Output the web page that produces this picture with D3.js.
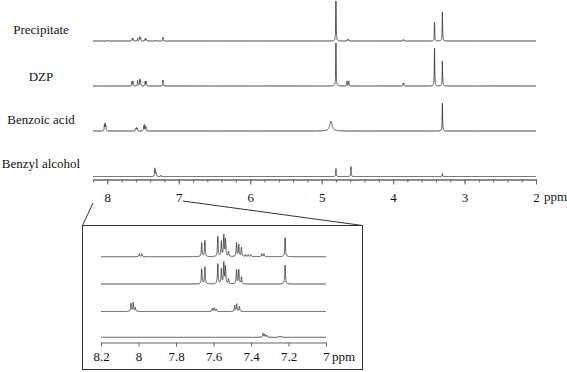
<!DOCTYPE html>
<html>
<head>
<meta charset="utf-8">
<script src="https://cdn.jsdelivr.net/npm/d3@7"></script>
<style>
  html, body { margin: 0; padding: 0; background: #fff; }
  svg text { font-family: "Liberation Serif", "Times New Roman", Times, "DejaVu Serif", serif; }
</style>
</head>
<body>
<svg id="chart" width="567" height="372"></svg>
<script>
// sample names, top to bottom
const samples = ['Precipitate', 'DZP', 'Benzoic acid', 'Benzyl alcohol'];

// full spectrum, peak lists: [ppm, height, half-width (optional)]
const mainPrecipitate = [
  [8.00, 1], [7.65, 2.5], [7.64, 2.5], [7.575, 3], [7.545, 4], [7.535, 3], [7.47, 2.5], [7.455, 2],
  [7.33, 1], [7.22, 4], [4.80, 40], [4.64, 1.5], [4.625, 1.5], [3.86, 1.2], [3.85, 1.2], [3.42, 19], [3.31, 29]
];
const mainDZP = [
  [7.655, 4.5], [7.64, 4.5], [7.575, 5.5], [7.545, 6.5], [7.535, 5], [7.47, 4.5], [7.455, 4.5], [7.22, 6],
  [4.80, 43], [4.645, 5], [4.62, 5], [3.86, 2.5], [3.85, 2.5], [3.42, 38], [3.31, 25]
];
const mainBenzoic = [
  [8.04, 6], [8.03, 7], [8.02, 5], [7.60, 2.5], [7.59, 3], [7.58, 2.5], [7.49, 5], [7.475, 6], [7.46, 4],
  [4.87, 10, 0.02], [3.31, 28]
];
const mainBenzyl = [
  [7.335, 8], [7.325, 5], [7.315, 3], [7.25, 1.2], [4.80, 8], [4.59, 10], [3.31, 3]
];

// aromatic expansion (inset), same samples
const insetPrecipitate = [
  [7.996, 3], [7.982, 3], [7.663, 14], [7.646, 16], [7.577, 20], [7.558, 15], [7.545, 21], [7.536, 17],
  [7.520, 5], [7.477, 14], [7.465, 12], [7.451, 9], [7.43, 2], [7.415, 2], [7.40, 2], [7.343, 3], [7.331, 3], [7.218, 19]
];
const insetDZP = [
  [7.663, 15], [7.646, 17], [7.577, 20], [7.558, 15], [7.545, 21], [7.536, 17], [7.520, 5],
  [7.477, 14], [7.465, 14], [7.451, 7], [7.218, 19]
];
const insetBenzoic = [
  [8.040, 8], [8.028, 9], [8.017, 4], [7.607, 3], [7.597, 3.5], [7.586, 2.5], [7.487, 6], [7.476, 7.5], [7.462, 5]
];
const insetBenzyl = [
  [7.336, 4], [7.326, 3], [7.316, 2], [7.25, 1], [7.24, 1]
];

const mainMajorTicks = [8, 7, 6, 5, 4, 3, 2];
const mainMinorTicks = [8.2, 8, 7.8, 7.6, 7.4, 7.2, 7, 6.8, 6.6, 6.4, 6.2, 6, 5.8, 5.6, 5.4, 5.2, 5,
  4.8, 4.6, 4.4, 4.2, 4, 3.8, 3.6, 3.4, 3.2, 3, 2.8, 2.6, 2.4, 2.2, 2];
const insetTicks = [8.2, 8, 7.8, 7.6, 7.4, 7.2, 7];

const FONT = '"Liberation Serif", "Times New Roman", Times, "DejaVu Serif", serif';
const svg = d3.select('#chart');
const INK = '#3a3a3a';

// Lorentzian sum of a peak list, sampled over [hi, lo]
function trace(peaks, hi, lo, step, hw) {
  const xs = d3.range(lo, hi + step / 2, step).concat(peaks.map(p => p[0]));
  xs.sort((a, b) => b - a);
  return xs.map(x => {
    let v = 0;
    peaks.forEach(p => {
      const w = p[2] || hw;
      const d = (x - p[0]) / w;
      v += p[1] / (1 + d * d);
    });
    return { x, v };
  });
}

function styleText(sel) {
  sel.attr('font-family', FONT).style('font-family', FONT).style('font-size', '13px').attr('fill', '#111');
}

// ---- main spectra
const x = d3.scaleLinear().domain([8.2, 2]).range([93, 536]);
const mainBases = [41, 86, 131, 176.5];
const mainData = [mainPrecipitate, mainDZP, mainBenzoic, mainBenzyl];

mainData.forEach((peaks, i) => {
  const y = d3.scaleLinear().domain([0, 45]).range([mainBases[i], mainBases[i] - 45]);
  const line = d3.line().x(d => x(d.x)).y(d => y(d.v));
  svg.append('path').datum(trace(peaks, 8.2, 2, 0.0005, 0.0035))
    .attr('fill', 'none').attr('stroke', INK).attr('stroke-width', 0.9).attr('d', line);
});

svg.selectAll('.lbl').data(samples).enter().append('text')
  .attr('x', 41).attr('y', (d, i) => [34, 81, 124, 168][i])
  .attr('text-anchor', 'middle').text(d => d)
  .call(styleText);

const axisY = 179.5;
const gMinor = svg.append('g').attr('transform', `translate(0,${axisY})`)
  .call(d3.axisBottom(x).tickValues(mainMinorTicks).tickSize(3).tickSizeOuter(0).tickFormat(''));
const gMajor = svg.append('g').attr('transform', `translate(0,${axisY})`)
  .call(d3.axisBottom(x).tickValues(mainMajorTicks).tickSize(5).tickSizeOuter(0).tickPadding(8).tickFormat(d3.format('d')));
[gMinor, gMajor].forEach(g => {
  g.selectAll('line').attr('stroke', '#666');
  g.select('.domain').attr('stroke', '#666');
  g.selectAll('text').call(styleText);
});
svg.append('text').attr('x', 544).attr('y', 201).text('ppm').call(styleText);

// ---- inset (aromatic expansion)
const xi = d3.scaleLinear().domain([8.2, 7]).range([101, 326]);
const insetBases = [256.7, 284, 311.5, 337.3];
const insetData = [insetPrecipitate, insetDZP, insetBenzoic, insetBenzyl];

const box = { x0: 82.5, y0: 225.5, x1: 362.5, y1: 369.5 };
svg.append('rect').attr('x', box.x0).attr('y', box.y0)
  .attr('width', box.x1 - box.x0).attr('height', box.y1 - box.y0)
  .attr('fill', 'none').attr('stroke', '#333').attr('stroke-width', 1);

// zoom connectors
svg.append('line').attr('x1', x(8.2)).attr('y1', 203).attr('x2', box.x0).attr('y2', box.y0)
  .attr('stroke', '#333').attr('stroke-width', 1);
svg.append('line').attr('x1', x(7) + 4).attr('y1', 201).attr('x2', box.x1).attr('y2', box.y0)
  .attr('stroke', '#333').attr('stroke-width', 1);

insetData.forEach((peaks, i) => {
  const y = d3.scaleLinear().domain([0, 25]).range([insetBases[i], insetBases[i] - 25]);
  const line = d3.line().x(d => xi(d.x)).y(d => y(d.v));
  svg.append('path').datum(trace(peaks, 8.2, 7, 0.0002, 0.0022))
    .attr('fill', 'none').attr('stroke', INK).attr('stroke-width', 0.9).attr('d', line);
});

const gInset = svg.append('g').attr('transform', 'translate(0,342.5)')
  .call(d3.axisBottom(xi).tickValues(insetTicks).tickSize(4).tickSizeOuter(0).tickPadding(5)
    .tickFormat(d => String(+d.toFixed(1))));
gInset.selectAll('line').attr('stroke', '#666');
gInset.select('.domain').attr('stroke', '#666');
gInset.selectAll('text').call(styleText);
svg.append('text').attr('x', 332).attr('y', 360.5).text('ppm').call(styleText);
</script>
</body>
</html>
